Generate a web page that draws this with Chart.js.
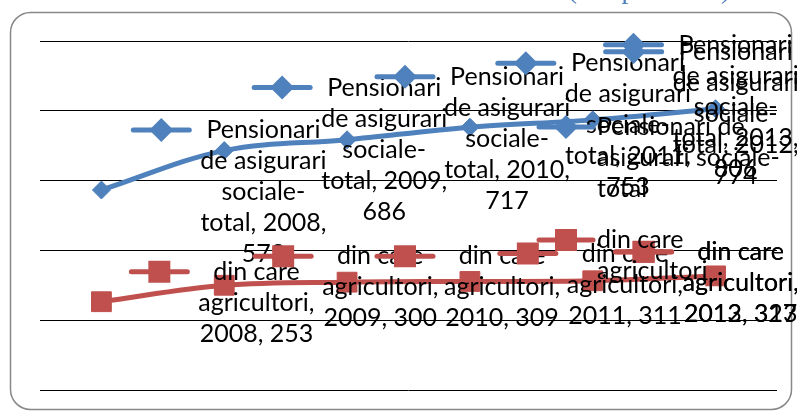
<!DOCTYPE html>
<html>
<head>
<meta charset="utf-8">
<script src="https://cdn.jsdelivr.net/npm/chart.js@4/dist/chart.umd.min.js"></script>
<style>
  body { margin: 0; background: #fff; }
  #chart { display: block; }
</style>
</head>
<body>
<canvas id="chart" width="797" height="412"></canvas>
<script>
const categories = ['2008', '2009', '2010', '2011', '2012', '2013'];
const pensionari = [573, 686, 717, 753, 774, 806];
const agricultori = [253, 300, 309, 311, 313, 327];
const seriesNames = ['Pensionari de asigurari sociale-total', 'din care agricultori'];
const yTicks = [0, 200, 400, 600, 800, 1000];
const titleText = '(mii persoane)';

// where Excel left each data label, relative to its point (dx, dy of first line)
const pensLabelOffsets = [[162, -60], [160, -63], [160, -63], [158, -64], [143, -68], [20, -64]];
const agrLabelOffsets = [[155, -30], [156, -29], [155, -26], [155, -28], [148, -29], [25, -24]];

const BLUE = '#4f81bd';
const RED = '#c0504d';
const FONT = '25px Lato';
const LINE_H = 31;

function wrapText(ctx, text, maxW) {
    const pieces = [];
    text.split(' ').forEach(w => {
        w.split(/(?<=-)/).forEach((p, k) => pieces.push({ t: p, sep: k === 0 ? ' ' : '' }));
    });
    const lines = [];
    let cur = '';
    pieces.forEach(p => {
        const cand = cur ? cur + p.sep + p.t : p.t;
        if (cur && ctx.measureText(cand).width > maxW) {
            lines.push(cur);
            cur = p.t;
        } else {
            cur = cand;
        }
    });
    if (cur) lines.push(cur);
    return lines;
}

function drawKey(ctx, ds, x1, x2, y) {
    ctx.save();
    ctx.strokeStyle = ds.borderColor;
    ctx.lineWidth = 5;
    ctx.lineCap = 'round';
    ctx.beginPath();
    ctx.moveTo(x1, y);
    ctx.lineTo(x2, y);
    ctx.stroke();
    ctx.fillStyle = ds.borderColor;
    Chart.helpers.drawPoint(ctx, {
        pointStyle: ds.pointStyle,
        radius: ds.keyRadius,
        rotation: 0,
        borderWidth: 1
    }, (x1 + x2) / 2, y);
    ctx.restore();
}

const excelLabels = {
    id: 'excelLabels',
    beforeDraw(chart) {
        const ctx = chart.ctx;
        ctx.save();
        ctx.strokeStyle = '#888';
        ctx.lineWidth = 1.5;
        ctx.beginPath();
        ctx.roundRect(10.5, 12.5, 781, 397, 20);
        ctx.stroke();
        // title sits above the canvas, only its descenders show
        ctx.font = '28px "Liberation Serif"';
        ctx.fillStyle = BLUE;
        ctx.textAlign = 'center';
        ctx.textBaseline = 'alphabetic';
        ctx.fillText(titleText, 649, -2);
        ctx.restore();
    },
    afterDatasetsDraw(chart) {
        const ctx = chart.ctx;
        ctx.save();
        ctx.font = FONT;
        ctx.textBaseline = 'middle';
        ctx.textAlign = 'center';
        ctx.fillStyle = '#000';
        chart.data.datasets.forEach((ds, di) => {
            const meta = chart.getDatasetMeta(di);
            meta.data.forEach((pt, i) => {
                const [dx, dy] = ds.labelOffsets[i];
                const text = ds.label + ', ' + chart.data.labels[i] + ', ' + ds.data[i];
                const lines = wrapText(ctx, text, 130);
                const cx = pt.x + dx;
                const y0 = pt.y + dy;
                const maxW = Math.max(...lines.map(l => ctx.measureText(l).width));
                lines.forEach((l, k) => ctx.fillText(l, cx, y0 + k * LINE_H));
                const kr = cx - maxW / 2 - 11;
                drawKey(ctx, ds, kr - 56, kr, y0);
            });
        });

        // legend, left inside the plot area
        ctx.textAlign = 'left';
        let ly = 127;
        const lx = 597;
        chart.data.datasets.forEach(ds => {
            const lines = wrapText(ctx, ds.label, 190);
            lines.forEach((l, k) => ctx.fillText(l, lx, ly + k * LINE_H));
            drawKey(ctx, ds, lx - 58, lx - 4, ly);
            ly += lines.length * LINE_H + 20;
        });
        ctx.restore();
    }
};

function draw() {
    new Chart(document.getElementById('chart'), {
        type: 'line',
        data: {
            labels: categories,
            datasets: [
                {
                    label: seriesNames[0],
                    data: pensionari,
                    borderColor: BLUE,
                    backgroundColor: BLUE,
                    borderWidth: 5,
                    tension: 0.35,
                    pointStyle: 'rectRot',
                    pointRadius: 9,
                    pointBorderWidth: 1,
                    keyRadius: 8.5,
                    labelOffsets: pensLabelOffsets
                },
                {
                    label: seriesNames[1],
                    data: agricultori,
                    borderColor: RED,
                    backgroundColor: RED,
                    borderWidth: 5,
                    tension: 0.35,
                    pointStyle: 'rect',
                    pointRadius: 14,
                    pointBorderWidth: 1,
                    keyRadius: 12,
                    labelOffsets: agrLabelOffsets
                }
            ]
        },
        options: {
            responsive: false,
            animation: false,
            layout: { padding: { left: 40, right: 20, top: 41, bottom: 22 } },
            plugins: {
                legend: { display: false },
                tooltip: { enabled: false }
            },
            scales: {
                x: {
                    offset: true,
                    grid: { display: false, drawTicks: false },
                    border: { display: false },
                    ticks: { display: false }
                },
                y: {
                    min: yTicks[0],
                    max: yTicks[yTicks.length - 1],
                    afterBuildTicks: axis => { axis.ticks = yTicks.map(v => ({ value: v })); },
                    grid: { color: '#000', lineWidth: 1, drawTicks: false },
                    border: { display: false },
                    ticks: { display: false }
                }
            }
        },
        plugins: [excelLabels]
    });
}

document.fonts.load(FONT).then(draw, draw);
</script>
</body>
</html>
